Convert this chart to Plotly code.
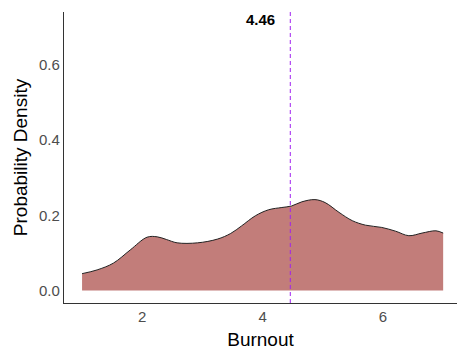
import plotly.graph_objects as go

burnout = [1.0, 1.25, 1.52, 1.8, 2.08, 2.25, 2.4, 2.58, 2.92, 3.25, 3.47, 3.65, 3.88, 4.1, 4.32, 4.48, 4.65, 4.87, 5.04, 5.27, 5.49, 5.71, 5.98, 6.21, 6.43, 6.65, 6.88, 7.0]
density = [0.045, 0.055, 0.073, 0.108, 0.142, 0.143, 0.136, 0.127, 0.127, 0.137, 0.152, 0.172, 0.199, 0.215, 0.221, 0.225, 0.236, 0.242, 0.234, 0.208, 0.186, 0.174, 0.168, 0.158, 0.146, 0.153, 0.159, 0.153]
mean_value = 4.46
mean_label = "4.46"
x_ticks = [2, 4, 6]
y_ticks = [0.0, 0.2, 0.4, 0.6]
y_tick_text = ["0.0", "0.2", "0.4", "0.6"]

fig = go.Figure()
fig.add_trace(go.Scatter(x=burnout, y=density, mode="lines", fill="tozeroy",
                         fillcolor="#C27D7A", line=dict(width=0, color="#C27D7A"),
                         line_shape="spline", hoverinfo="skip", showlegend=False))
fig.add_trace(go.Scatter(x=burnout, y=density, mode="lines",
                         line=dict(width=1, color="#222222", shape="spline"),
                         showlegend=False))
fig.add_shape(type="line", x0=mean_value, x1=mean_value, xref="x", y0=0, y1=1, yref="paper",
              line=dict(color="#A020F0", width=1, dash="4px,3px"))
fig.add_annotation(x=mean_value - 0.5, y=0.72, text="<b>" + mean_label + "</b>", showarrow=False,
                   font=dict(family="Liberation Sans, Arial", size=15, color="black"))

fig.update_layout(
    width=457, height=350,
    margin=dict(l=64, r=0, t=12, b=47),
    plot_bgcolor="white", paper_bgcolor="white",
    font=dict(family="Liberation Sans, Arial", color="#4D4D4D"),
    xaxis=dict(range=[0.70, 7.23], tickvals=x_ticks, showgrid=False, zeroline=False,
               showline=True, linecolor="#333333", linewidth=1.2, ticks="",
               tickfont=dict(size=15, color="#4D4D4D"),
               title=dict(text="Burnout", font=dict(size=19, color="black"), standoff=8)),
    yaxis=dict(range=[-0.033, 0.741], tickvals=y_ticks, ticktext=y_tick_text, showgrid=False,
               zeroline=False, showline=True, linecolor="#333333", linewidth=1.2, ticks="",
               tickfont=dict(size=15, color="#4D4D4D"),
               title=dict(text="Probability Density", font=dict(size=19, color="black"), standoff=6)),
)
fig.write_html("out.html")
